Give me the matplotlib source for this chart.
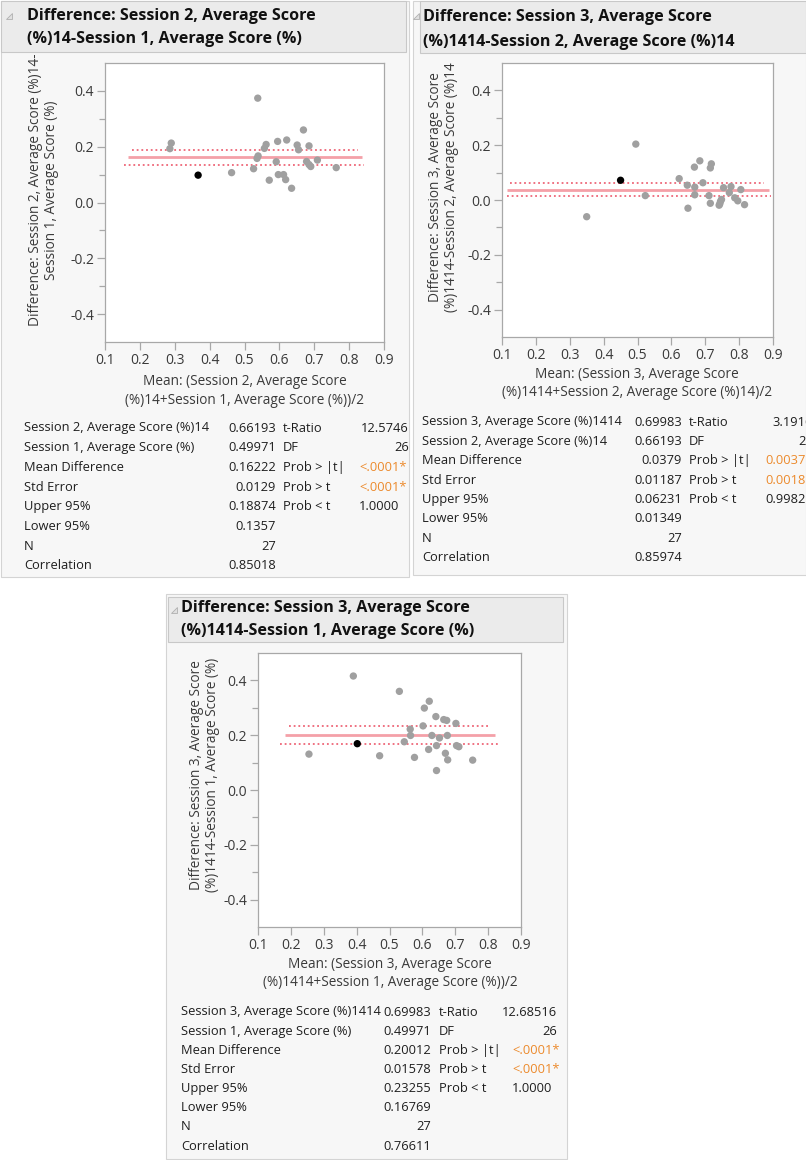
import matplotlib
matplotlib.use('Agg')
import matplotlib.pyplot as plt
from matplotlib.patches import Rectangle, Polygon
import numpy as np

# ---------------- data ----------------
# Panel 1: Session 2 - Session 1
p1_mean = [0.290, 0.286, 0.367, 0.463, 0.538, 0.539, 0.536, 0.526, 0.562, 0.557,
           0.571, 0.591, 0.595, 0.597, 0.612, 0.618, 0.621, 0.635, 0.651, 0.655,
           0.669, 0.685, 0.678, 0.685, 0.690, 0.709, 0.763]
p1_diff = [0.213, 0.193, 0.098, 0.107, 0.374, 0.167, 0.158, 0.121, 0.208, 0.194,
           0.080, 0.146, 0.219, 0.100, 0.100, 0.082, 0.224, 0.051, 0.206, 0.189,
           0.260, 0.203, 0.147, 0.136, 0.129, 0.152, 0.125]
p1_highlight = 2

# Panel 2: Session 3 - Session 2
p2_mean = [0.350, 0.450, 0.495, 0.523, 0.623, 0.647, 0.649, 0.668, 0.669, 0.669,
           0.684, 0.693, 0.711, 0.715, 0.718, 0.715, 0.741, 0.745, 0.748, 0.754,
           0.771, 0.776, 0.787, 0.796, 0.805, 0.816, 0.743]
p2_diff = [-0.061, 0.072, 0.204, 0.016, 0.078, 0.054, -0.030, 0.120, 0.047, 0.019,
           0.143, 0.063, 0.016, -0.012, 0.132, 0.117, -0.019, -0.005, 0.002, 0.045,
           0.027, 0.049, 0.008, -0.003, 0.038, -0.017, -0.014]
p2_highlight = 1

# Panel 3: Session 3 - Session 1
p3_mean = [0.255, 0.390, 0.402, 0.470, 0.530, 0.545, 0.563, 0.564, 0.576, 0.602,
           0.606, 0.619, 0.621, 0.629, 0.641, 0.643, 0.643, 0.652, 0.665, 0.674,
           0.676, 0.670, 0.677, 0.702, 0.704, 0.711, 0.753]
p3_diff = [0.131, 0.416, 0.169, 0.125, 0.360, 0.176, 0.222, 0.199, 0.119, 0.234,
           0.299, 0.148, 0.324, 0.199, 0.268, 0.162, 0.071, 0.190, 0.257, 0.254,
           0.199, 0.134, 0.110, 0.243, 0.162, 0.158, 0.109]
p3_highlight = 2

row_labels_1 = ["Session 2, Average Score (%)14", "Session 1, Average Score (%)"]
row_labels_2 = ["Session 3, Average Score (%)1414", "Session 2, Average Score (%)14"]
row_labels_3 = ["Session 3, Average Score (%)1414", "Session 1, Average Score (%)"]
common_labels = ["Mean Difference", "Std Error", "Upper 95%", "Lower 95%", "N", "Correlation"]
stat_names = ["t-Ratio", "DF", "Prob > |t|", "Prob > t", "Prob < t"]

# [mean A, mean B, mean diff, std err, upper95, lower95, N, correlation]
stats_1 = [0.66193, 0.49971, 0.16222, 0.0129, 0.18874, 0.1357, 27, 0.85018]
stats_2 = [0.69983, 0.66193, 0.0379, 0.01187, 0.06231, 0.01349, 27, 0.85974]
stats_3 = [0.69983, 0.49971, 0.20012, 0.01578, 0.23255, 0.16769, 27, 0.76611]
tests_1 = ["12.5746", "26", "<.0001*", "<.0001*", "1.0000"]
tests_2 = ["3.1916", "26", "0.0037*", "0.0018*", "0.9982"]
tests_3 = ["12.68516", "26", "<.0001*", "<.0001*", "1.0000"]
tests_sig_1 = [False, False, True, True, False]
tests_sig_2 = [False, False, True, True, False]
tests_sig_3 = [False, False, True, True, False]

titles = [["Difference: Session 2, Average Score", "(%)14-Session 1, Average Score (%)"],
          ["Difference: Session 3, Average Score", "(%)1414-Session 2, Average Score (%)14"],
          ["Difference: Session 3, Average Score", "(%)1414-Session 1, Average Score (%)"]]
ylabels = [["Difference: Session 2, Average Score (%)14-", "Session 1, Average Score (%)"],
           ["Difference: Session 3, Average Score", "(%)1414-Session 2, Average Score (%)14"],
           ["Difference: Session 3, Average Score", "(%)1414-Session 1, Average Score (%)"]]
xlabels = [["Mean: (Session 2, Average Score", "(%)14+Session 1, Average Score (%))/2"],
           ["Mean: (Session 3, Average Score", "(%)1414+Session 2, Average Score (%)14)/2"],
           ["Mean: (Session 3, Average Score", "(%)1414+Session 1, Average Score (%))/2"]]
x_ticks = [0.1, 0.2, 0.3, 0.4, 0.5, 0.6, 0.7, 0.8, 0.9]
y_ticks = [-0.4, -0.2, 0.0, 0.2, 0.4]

# ---------------- layout / style ----------------
W, H = 806, 1160
plt.rcParams['font.family'] = ['Open Sans', 'DejaVu Sans']
fig = plt.figure(figsize=(W / 100, H / 100), dpi=100)
fig.patch.set_facecolor('white')

TXT = '#1e1e1e'
GRAY_PT = '#a0a0a0'
ORANGE = '#ec8a2c'
AXC = '#a8a8a8'
TFS = 9.3


def fx(x):
    return x / W


def fy(y):
    return 1 - y / H


def rect(l, t, r, b, fc, ec='none', lw=0.8, z=-5):
    fig.patches.append(Rectangle((fx(l), fy(b)), (r - l) / W, (b - t) / H,
                                 transform=fig.transFigure, facecolor=fc,
                                 edgecolor=ec, linewidth=lw, zorder=z))


def text(x, y, s, **kw):
    kw.setdefault('color', TXT)
    kw.setdefault('va', 'center')
    fig.text(fx(x), fy(y), s, **kw)


def fmt(v):
    if isinstance(v, int):
        return str(v)
    return f"{v:.5f}".rstrip('0')


def panel(cfg, md, df, hi, title, ylab, xlab, labels, stats, tests, sig, line_ext):
    # background + header
    rect(*cfg['bg'], fc='#f7f7f7', ec='#d4d4d4')
    rect(*cfg['head'], fc='#ebebeb', ec='#c8c8c8')
    tx, ty = cfg['tri']
    fig.patches.append(Polygon([(fx(tx), fy(ty + 5)), (fx(tx + 6), fy(ty + 5)), (fx(tx + 6), fy(ty - 1))],
                               closed=True, transform=fig.transFigure, facecolor='#e0e0e0',
                               edgecolor='#b0b0b0', linewidth=0.6))
    text(cfg['tl_x'], cfg['tl_y'][0], title[0], fontsize=11.6, fontweight='bold', color='#111111')
    text(cfg['tl_x'], cfg['tl_y'][1], title[1], fontsize=11.6, fontweight='bold', color='#111111')

    l, t, r, b = cfg['ax']
    ax = fig.add_axes([fx(l), fy(b), (r - l) / W, (b - t) / H])
    ax.set_facecolor('white')
    ax.set_xlim(0.1, 0.9)
    ax.set_ylim(-0.5, 0.5)
    ax.set_xticks(x_ticks)
    ax.set_xticklabels([f"{v:.1f}" for v in x_ticks])
    ax.set_yticks(y_ticks)
    ax.set_yticklabels([f"{v:.1f}" for v in y_ticks])
    ax.set_yticks([-0.3, -0.1, 0.1, 0.3], minor=True)
    for s in ax.spines.values():
        s.set_color(AXC)
        s.set_linewidth(0.9)
    ax.tick_params(axis='both', which='major', length=6, width=0.9, color=AXC,
                   labelsize=10, labelcolor='#3a3a3a', pad=2)
    ax.tick_params(axis='y', which='minor', length=4, width=0.9, color=AXC)

    mean_d, up, lo = stats[2], stats[4], stats[5]
    ax.plot(line_ext[0], [mean_d, mean_d], color='#f4a0a8', lw=2.0, zorder=2, solid_capstyle='butt')
    ax.plot(line_ext[1], [up, up], color='#ee6677', lw=1.3, ls=(0, (1, 1.6)), zorder=2)
    ax.plot(line_ext[2], [lo, lo], color='#ee6677', lw=1.3, ls=(0, (1, 1.6)), zorder=2)

    md = np.asarray(md)
    df = np.asarray(df)
    mask = np.ones(len(md), bool)
    mask[hi] = False
    ax.scatter(md[mask], df[mask], s=28, color=GRAY_PT, edgecolors='none', zorder=3)
    ax.scatter(md[hi], df[hi], s=28, color='black', edgecolors='none', zorder=4)

    # axis labels
    for i, (xx, yy) in enumerate(cfg['yl']):
        text(xx, yy, ylab[i], fontsize=9.8, rotation=90, ha='center', color='#3a3a3a')
    for i, (xx, yy) in enumerate(cfg['xl']):
        text(xx, yy, xlab[i], fontsize=9.8, ha='center', color='#3a3a3a')

    # table
    rows = labels + common_labels
    y0, dy = cfg['row0'], cfg['drow']
    c1, c2, c3, c4r, c4p = cfg['cols']
    for i, lab in enumerate(rows):
        y = y0 + i * dy
        text(c1, y, lab, fontsize=TFS)
        text(c2, y, fmt(stats[i]), fontsize=TFS, ha='right')
        if i < len(stat_names):
            text(c3, y, stat_names[i], fontsize=TFS)
            if i < 2:
                text(c4r, y, tests[i], fontsize=TFS, ha='right')
            else:
                text(c4p, y, tests[i], fontsize=TFS, color=ORANGE if sig[i] else TXT)


cfg1 = dict(bg=(1, 1, 409, 577), head=(1, 1, 406, 52), tri=(6, 14), tl_x=27, tl_y=(16, 39),
            ax=(105, 63, 384, 342), yl=[(36, 190), (52, 190)], xl=[(245, 381), (245, 400)],
            row0=428, drow=19.7, cols=(24, 276, 283, 409, 359))
cfg2 = dict(bg=(413, 1, 806, 575), head=(420, 1, 806, 53), tri=(413, 14), tl_x=423, tl_y=(17, 42),
            ax=(502, 63, 773, 337), yl=[(435, 187), (452, 187)], xl=[(637, 374), (637, 393)],
            row0=422, drow=19.4, cols=(422, 682, 689, 813, 765))
cfg3 = dict(bg=(166, 594, 567, 1159), head=(168, 597, 563, 642), tri=(171, 608), tl_x=181, tl_y=(608, 631),
            ax=(258, 653, 521, 927), yl=[(196, 775), (213, 775)], xl=[(390, 964), (390, 982)],
            row0=1012, drow=19.15, cols=(181, 431, 439, 557, 512))

ext1 = [(0.167, 0.838), (0.176, 0.826), (0.154, 0.843)]
ext2 = [(0.115, 0.888), (0.125, 0.873), (0.115, 0.895)]
ext3 = [(0.181, 0.821), (0.194, 0.804), (0.168, 0.829)]

panel(cfg1, p1_mean, p1_diff, p1_highlight, titles[0], ylabels[0], xlabels[0],
      row_labels_1, stats_1, tests_1, tests_sig_1, ext1)
panel(cfg2, p2_mean, p2_diff, p2_highlight, titles[1], ylabels[1], xlabels[1],
      row_labels_2, stats_2, tests_2, tests_sig_2, ext2)
panel(cfg3, p3_mean, p3_diff, p3_highlight, titles[2], ylabels[2], xlabels[2],
      row_labels_3, stats_3, tests_3, tests_sig_3, ext3)

fig.savefig('out.png', dpi=100, facecolor=fig.get_facecolor())
